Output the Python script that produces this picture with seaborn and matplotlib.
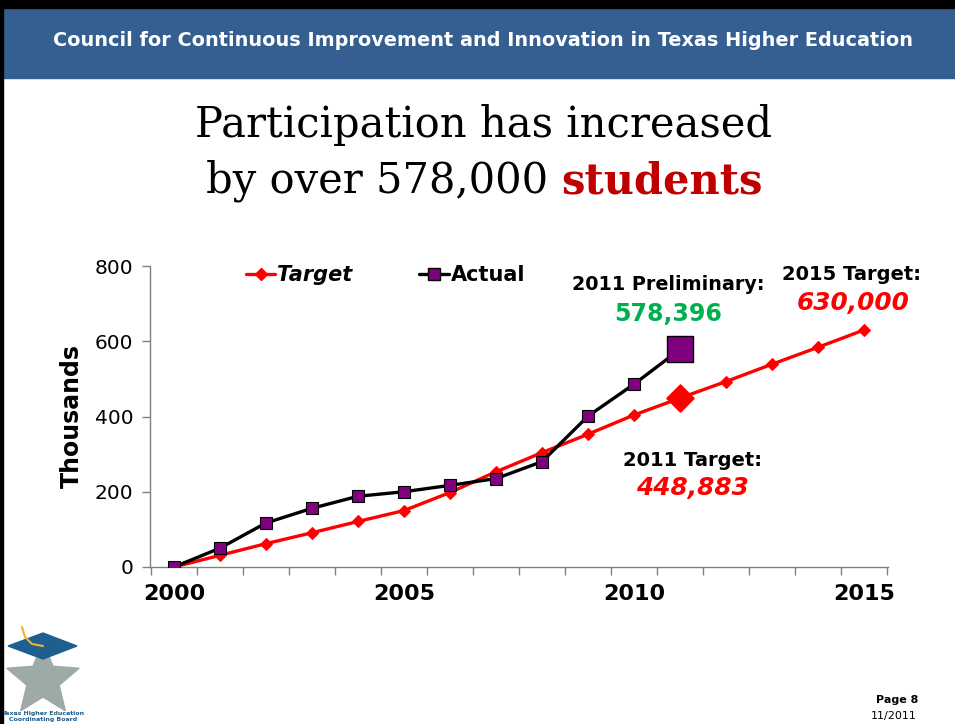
import pandas as pd
import matplotlib.pyplot as plt
import seaborn as sns
from matplotlib.patches import Rectangle, Polygon
from matplotlib.lines import Line2D
import numpy as np

# data (thousands of students)
years = list(range(2000, 2016))
target = [0, 31, 62, 91, 121, 150, 198, 253, 304, 353, 404, 448.883, 493, 539, 584, 630]
actual_years = list(range(2000, 2012))
actual = [0, 50, 117, 156, 188, 200, 217, 235, 280, 401, 486, 578.396]
year_labels = [2000, 2005, 2010, 2015]

df_t = pd.DataFrame({"Year": years, "Thousands": target})
df_a = pd.DataFrame({"Year": actual_years, "Thousands": actual})

sns.set_style("white")
plt.rcParams["font.family"] = ["DejaVu Sans"]
plt.rcParams.update({"text.color": "black", "axes.labelcolor": "black",
                     "xtick.color": "black", "ytick.color": "black"})

W, H = 955, 724
fig = plt.figure(figsize=(W / 100, H / 100), dpi=100)

def fx(px):
    return px / W

def fy(py):
    return 1 - py / H

# slide header + frame
fig.patches.append(Rectangle((0, fy(78)), 1, fy(8) - fy(78), transform=fig.transFigure,
                             color="#365F91", zorder=0))
fig.patches.append(Rectangle((0, fy(8)), 1, 1 - fy(8), transform=fig.transFigure,
                             color="black", zorder=0))
fig.patches.append(Rectangle((0, 0), fx(3), 1, transform=fig.transFigure,
                             color="black", zorder=0))
fig.text(fx(483), fy(40), "Council for Continuous Improvement and Innovation in Texas Higher Education",
         color="white", fontsize=13.9, fontweight="bold", ha="center", va="center")

# title
serif = ["DejaVu Serif"]
fig.text(fx(484), fy(125), "Participation has increased", family=serif, fontsize=30,
         ha="center", va="center")
t1 = fig.text(0, fy(181), "by over 578,000 ", family=serif, fontsize=30,
              ha="left", va="center")
t2 = fig.text(0, fy(181), "students", family=serif, fontsize=30, fontweight="bold",
              color="#C00000", ha="left", va="center")

ax = fig.add_axes([fx(150), fy(567), fx(738), fy(266) - fy(567)])

sns.lineplot(data=df_t, x="Year", y="Thousands", ax=ax, color="#FF0000", lw=2.4,
             marker="D", markersize=6, markerfacecolor="#FF0000", markeredgecolor="#FF0000")
sns.lineplot(data=df_a, x="Year", y="Thousands", ax=ax, color="black", lw=2.4,
             marker="s", markersize=8.5, markerfacecolor="#800080", markeredgecolor="black",
             markeredgewidth=0.8, zorder=3)
# 2011 highlights
sns.scatterplot(data=df_t[df_t.Year == 2011], x="Year", y="Thousands", ax=ax, marker="D",
                s=190, color="#FF0000", edgecolor="#FF0000", zorder=4)
sns.scatterplot(data=df_a[df_a.Year == 2011], x="Year", y="Thousands", ax=ax, marker="s",
                s=330, color="#800080", edgecolor="black", linewidth=1, zorder=5)

ax.set_xlim(1999.48, 2015.52)
ax.set_ylim(0, 800)
ax.set_yticks([0, 200, 400, 600, 800])
ax.set_xticks(year_labels)
ax.set_xticklabels([str(y) for y in year_labels], fontweight="bold", fontsize=16)
ax.set_xticks(np.arange(1999.5, 2016, 1.0), minor=True)
ax.tick_params(axis="x", which="major", bottom=True, length=0, pad=12)
ax.tick_params(axis="x", which="minor", bottom=True, length=6, direction="out",
               color="#808080", width=1)
ax.tick_params(axis="y", left=True, length=6, direction="out", color="#808080", width=1,
               labelsize=14.5, pad=6)
ax.set_xlabel("")
ax.set_ylabel("Thousands", fontsize=17, fontweight="bold", labelpad=8)
for s in ["top", "right"]:
    ax.spines[s].set_visible(False)
for s in ["left", "bottom"]:
    ax.spines[s].set_color("#808080")
    ax.spines[s].set_linewidth(1)
ax.patch.set_alpha(0)

handles = [
    Line2D([], [], color="#FF0000", lw=2.4, marker="D", markersize=6),
    Line2D([], [], color="black", lw=2.4, marker="s", markersize=8,
           markerfacecolor="#800080", markeredgecolor="black"),
]
leg = ax.legend(handles, ["Target", "Actual"], ncol=2, frameon=False, loc="upper left",
                bbox_to_anchor=(0.105, 1.065), handlelength=1.4, handletextpad=0.1,
                columnspacing=3.2, prop={"size": 15, "weight": "bold"})
leg.get_texts()[0].set_fontstyle("italic")

# annotations
fig.text(fx(668), fy(284), "2011 Preliminary:", fontsize=13.8, fontweight="bold",
         ha="center", va="center")
fig.text(fx(668), fy(314), "578,396", fontsize=17, fontweight="bold", color="#00B050",
         ha="center", va="center")
fig.text(fx(851), fy(275), "2015 Target:", fontsize=14, fontweight="bold",
         ha="center", va="center")
fig.text(fx(853), fy(303), "630,000", fontsize=17.8, fontweight="bold", style="italic",
         color="#FF0000", ha="center", va="center")
fig.text(fx(692), fy(460), "2011 Target:", fontsize=14, fontweight="bold",
         ha="center", va="center")
fig.text(fx(692), fy(488), "448,883", fontsize=17.8, fontweight="bold", style="italic",
         color="#FF0000", ha="center", va="center")

# footer
fig.text(fx(897), fy(700), "Page 8", fontsize=8, fontweight="bold", ha="center", va="center")
fig.text(fx(894), fy(716), "11/2011", fontsize=8, ha="center", va="center")

# logo
ang = np.pi / 2 + np.arange(10) * np.pi / 5
rad = np.where(np.arange(10) % 2 == 0, 38, 17)
star = [(fx(43 + r * np.cos(a)), fy(680 - r * np.sin(a))) for r, a in zip(rad, ang)]
fig.patches.append(Polygon(star, closed=True, transform=fig.transFigure,
                           color="#9EAAA7", zorder=1))
cap = [(fx(8), fy(646)), (fx(43), fy(633)), (fx(77), fy(646)), (fx(43), fy(659))]
fig.patches.append(Polygon(cap, closed=True, transform=fig.transFigure,
                           color="#1F5F8F", zorder=2))
fig.lines.append(Line2D([fx(22), fx(25), fx(32), fx(43)], [fy(627), fy(637), fy(644), fy(646)],
                        transform=fig.transFigure, color="#F0B323", lw=1.5, zorder=3))
fig.text(fx(43), fy(713), "Texas Higher Education", fontsize=4.5, fontweight="bold",
         color="#1F5F8F", ha="center", va="center")
fig.text(fx(43), fy(720), "Coordinating Board", fontsize=4.5, fontweight="bold",
         color="#1F5F8F", ha="center", va="center")

# second title line: center both parts together
fig.canvas.draw()
w1 = t1.get_window_extent().width
w2 = t2.get_window_extent().width
x0 = 484 - (w1 + w2) / 2
t1.set_x(fx(x0))
t2.set_x(fx(x0 + w1))

fig.savefig("out.png", dpi=100)
